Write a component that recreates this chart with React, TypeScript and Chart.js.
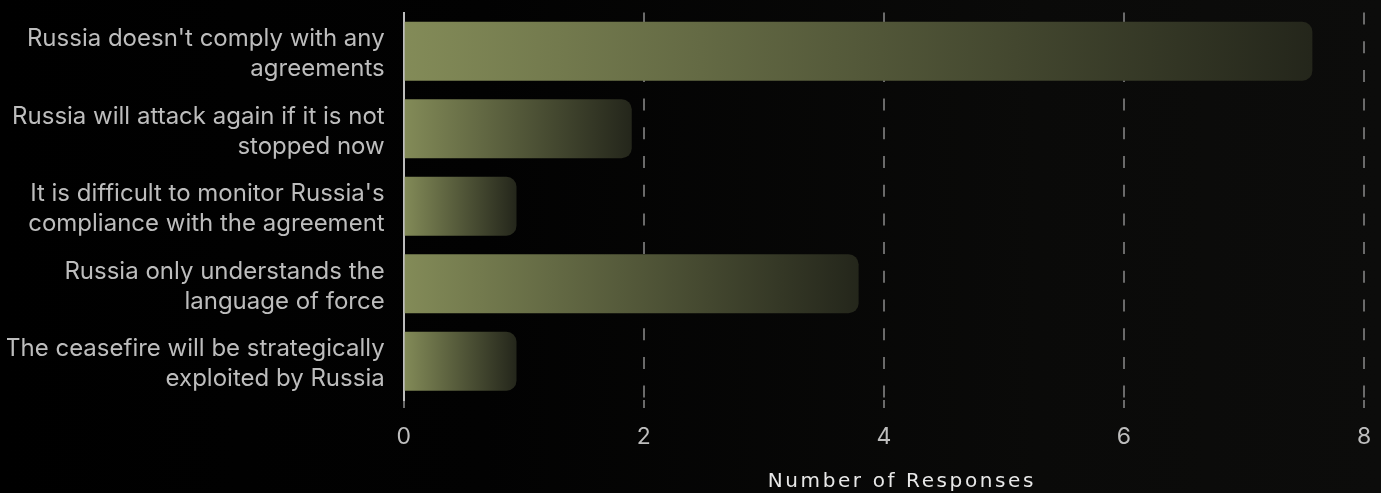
import React, { useEffect, useRef } from "react";
import { Chart, registerables } from "chart.js";

Chart.register(...registerables);

const categories: string[][] = [
  ["Russia doesn't comply with any", "agreements"],
  ["Russia will attack again if it is not", "stopped now"],
  ["It is difficult to monitor Russia's", "compliance with the agreement"],
  ["Russia only understands the", "language of force"],
  ["The ceasefire will be strategically", "exploited by Russia"],
];
const responses: number[] = [7.57, 1.9, 0.94, 3.79, 0.94];
const xTicks: number[] = [0, 2, 4, 6, 8];
const xTitle = "Number of Responses";

const titlePlugin = {
  id: "wideTitle",
  afterDraw(chart: any) {
    const { ctx, chartArea } = chart;
    ctx.save();
    ctx.font = '20px "DejaVu Sans"';
    try {
      (ctx as any).letterSpacing = "2.6px";
    } catch (e) {}
    ctx.fillStyle = "#e8e8e8";
    ctx.textAlign = "center";
    ctx.textBaseline = "middle";
    ctx.fillText(xTitle, (chartArea.left + chartArea.right) / 2 + 18, 482);
    ctx.restore();
  },
};

export default function App() {
  const ref = useRef<HTMLCanvasElement | null>(null);

  useEffect(() => {
    document.body.style.margin = "0";
    document.body.style.background = "#000";
    const canvas = ref.current;
    if (!canvas) return;
    const chart = new Chart(canvas, {
      type: "bar",
      data: {
        labels: categories,
        datasets: [
          {
            label: xTitle,
            data: responses,
            backgroundColor: (c: any) => {
              const ch = c.chart;
              const xs = ch.scales && ch.scales.x;
              if (!ch.chartArea || !xs || typeof c.raw !== "number") return "#7f8755";
              const x0 = xs.getPixelForValue(0);
              const x1 = xs.getPixelForValue(c.raw);
              const g = ch.ctx.createLinearGradient(x0, 0, x1, 0);
              g.addColorStop(0, "#838b58");
              g.addColorStop(1, "#24261b");
              return g;
            },
            borderWidth: 0,
            borderRadius: 10,
            borderSkipped: "start",
            barPercentage: 0.8,
            categoryPercentage: 0.95,
          },
        ],
      },
      options: {
        indexAxis: "y",
        animation: false,
        responsive: true,
        maintainAspectRatio: false,
        layout: { padding: { left: 7, top: 12.5, right: 17, bottom: 27 } },
        plugins: {
          legend: { display: false },
          tooltip: { enabled: false },
        },
        scales: {
          x: {
            min: 0,
            max: 8,
            afterBuildTicks: (s: any) => {
              s.ticks = xTicks.map((v) => ({ value: v }));
            },
            afterFit: (s: any) => {
              s.paddingLeft = 0;
              s.paddingRight = 0;
              s.height = 66;
            },
            grid: {
              color: "#6a6a6a",
              lineWidth: 2,
              tickLength: 8,
              drawTicks: true,
            },
            border: { display: false, dash: [12, 16.7] },
            ticks: {
              color: "#bdbdbd",
              font: { family: "Inter", size: 23 },
              padding: 15,
            },
            title: { display: false },
          },
          y: {
            afterFit: (s: any) => {
              s.paddingTop = 0;
              s.paddingBottom = 0;
              s.width = s.width - 21;
            },
            grid: { display: false, drawTicks: false },
            border: { display: true, color: "#bdbdbd", width: 2 },
            ticks: {
              color: "#bdbdbd",
              font: { family: "Inter", size: 24, lineHeight: 1.25 },
              padding: 19,
              labelOffset: 3,
            },
          },
        },
      },
      plugins: [titlePlugin],
    } as any);
    (chart.options.scales as any).x.border.dash = [12, 16.7];
    (chart.options.scales as any).x.grid.borderDash = [12, 16.7];
    chart.update();
    return () => chart.destroy();
  }, []);

  return (
    <div
      style={{
        position: "fixed",
        left: 0,
        top: 0,
        width: 1381,
        height: 493,
        background:
          "linear-gradient(90deg, #000000 0%, #020202 35%, #0a0a09 75%, #0c0c0b 100%)",
      }}
    >
      <canvas ref={ref} />
    </div>
  );
}
